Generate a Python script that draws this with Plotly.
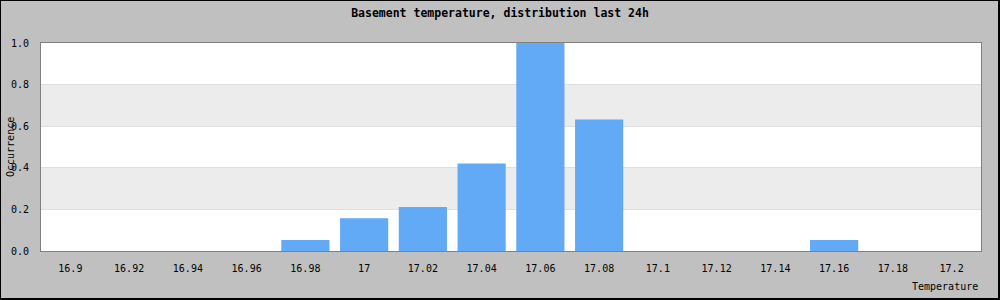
import plotly.graph_objects as go

categories = ["16.9", "16.92", "16.94", "16.96", "16.98", "17", "17.02", "17.04",
              "17.06", "17.08", "17.1", "17.12", "17.14", "17.16", "17.18", "17.2"]
occurrence = [0, 0, 0, 0, 0.053, 0.158, 0.211, 0.421,
              1.0, 0.632, 0, 0, 0, 0.053, 0, 0]
y_ticks = [0.0, 0.2, 0.4, 0.6, 0.8, 1.0]
bands = [(0.2, 0.4), (0.6, 0.8)]

W, H = 1000, 300
ML, MR, MT, MB = 41, 19, 43, 49
PW, PH = W - ML - MR, H - MT - MB

def px(x):
    return (x - ML) / PW

def py(y):
    return 1 - (y - MT) / PH

FONT = "DejaVu Sans Mono"
BG = "#c0c0c0"

fig = go.Figure()
fig.add_trace(go.Bar(x=categories, y=occurrence, marker=dict(color="#62aaf5", line=dict(width=0)),
                     hoverinfo="x+y"))

shapes = []
for lo, hi in bands:
    shapes.append(dict(type="rect", xref="paper", yref="y", x0=0, x1=1, y0=lo, y1=hi,
                       fillcolor="#ececec", line=dict(width=0), layer="below"))
# outer frame
shapes.append(dict(type="line", xref="paper", yref="paper", x0=px(0), x1=px(1000), y0=py(0.5), y1=py(0.5),
                   line=dict(color="#000000", width=1)))
shapes.append(dict(type="line", xref="paper", yref="paper", x0=px(0.5), x1=px(0.5), y0=py(0), y1=py(300),
                   line=dict(color="#000000", width=1)))
shapes.append(dict(type="line", xref="paper", yref="paper", x0=px(999), x1=px(999), y0=py(0), y1=py(300),
                   line=dict(color="#000000", width=2)))
shapes.append(dict(type="line", xref="paper", yref="paper", x0=px(0), x1=px(1000), y0=py(299), y1=py(299),
                   line=dict(color="#000000", width=2)))

fig.update_layout(
    width=W, height=H,
    margin=dict(l=ML, r=MR, t=MT, b=MB, pad=0),
    paper_bgcolor=BG, plot_bgcolor="#ffffff",
    font=dict(family=FONT, size=10, color="#000000"),
    bargap=0.18,
    showlegend=False,
    title=dict(text="<b>Basement temperature, distribution last 24h</b>",
               x=0.5, xref="container", y=1 - 13 / H, yref="container",
               xanchor="center", yanchor="middle",
               font=dict(family=FONT, size=11.5, color="#000000")),
    xaxis=dict(type="category", categoryorder="array", categoryarray=categories,
               showgrid=False, showline=True, linecolor="#808080", linewidth=1, mirror=True,
               ticks="", ticklabelstandoff=8, zeroline=False),
    yaxis=dict(range=[0, 1.0], tickvals=y_ticks, ticktext=[f"{v:.1f}" for v in y_ticks],
               showgrid=True, gridcolor="#dedede", gridwidth=1,
               showline=True, linecolor="#808080", linewidth=1, mirror=True,
               ticks="", ticklabelstandoff=9, zeroline=False),
    shapes=shapes,
    annotations=[
        dict(text="Occurrence", xref="paper", yref="paper", x=px(10), y=0.5, textangle=-90,
             showarrow=False, xanchor="center", yanchor="middle",
             font=dict(family=FONT, size=10)),
        dict(text="Temperature", xref="paper", yref="paper", x=px(980), y=py(286),
             showarrow=False, xanchor="right", yanchor="middle",
             font=dict(family=FONT, size=10)),
    ],
)

fig.write_html("out.html")
